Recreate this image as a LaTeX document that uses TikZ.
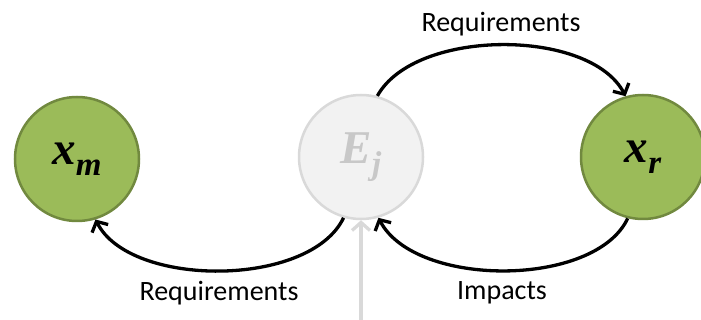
\documentclass[tikz,border=0pt]{standalone}
\usepackage{fontspec}
\setmainfont{Carlito}
\newfontfamily\serifbi{Liberation Serif}
\usetikzlibrary{arrows.meta}
\definecolor{gfill}{HTML}{9BBB59}
\definecolor{gline}{HTML}{71893F}
\definecolor{efill}{HTML}{F2F2F2}
\definecolor{eline}{HTML}{D9D9D9}
\definecolor{etext}{HTML}{C8C8C8}
\tikzset{
  var/.style={circle,minimum size=124pt,inner sep=0pt,line width=2.5pt},
  grn/.style={var,fill=gfill,draw=gline},
  ghost/.style={var,fill=efill,draw=eline,text=etext},
  conn/.style={line width=3.3pt,-{Straight Barb[length=8pt,width=18pt,line width=3.3pt]}},
  gconn/.style={conn,draw=eline},
  lbl/.style={anchor=base,font=\fontsize{28}{34}\selectfont,inner sep=0pt},
}
\newcommand{\mvar}[2]{{\serifbi\bfseries\itshape\fontsize{47}{52}\selectfont #1}{\serifbi\bfseries\itshape\fontsize{33}{36}\selectfont\raisebox{-11pt}{#2}}}
\begin{document}
\begin{tikzpicture}[x=1pt,y=-1pt]
\useasboundingbox (0,0) rectangle (701,320);
\node[grn] (xm) at (77,159) {\mvar{x}{m}};
\node[ghost] (ej) at (361,157) {\mvar{E}{j}};
\node[grn] (xr) at (643,157) {\mvar{x}{r}};
\coordinate (src) at (361,320);
\draw[conn] (ej.75) .. controls (415,28) and (590,28) .. (xr.106);
\draw[conn] (ej.254) .. controls (310,288) and (130,288) .. (xm.287);
\draw[conn] (xr.256) .. controls (595,288) and (415,288) .. (ej.286);
\draw[gconn] (src) -- (ej.south);
\node[lbl] (t1) at (501,32) {Requirements};
\node[lbl] (t2) at (219,300) {Requirements};
\node[lbl] (t3) at (502,299) {Impacts};
\end{tikzpicture}
\end{document}
